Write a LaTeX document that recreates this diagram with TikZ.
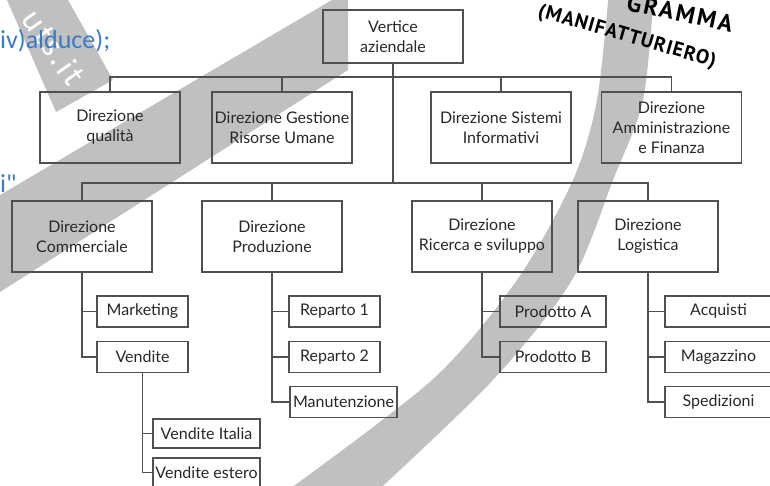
\documentclass[tikz,border=0pt]{standalone}
\usepackage{fontspec}
\setmainfont{Lato}
\newfontfamily\notefont{Carlito}
\newfontfamily\handfont{PT Sans}
\definecolor{linec}{RGB}{80,80,80}
\definecolor{txtc}{RGB}{40,40,40}
\definecolor{wmark}{RGB}{192,192,192}
\definecolor{noteblue}{RGB}{58,122,198}

\begin{document}
\begin{tikzpicture}[x=1pt,y=-1pt,box/.style={draw=linec, line width=1.1pt, text=txtc, align=center, inner sep=1pt, minimum width=140pt, minimum height=71pt, font=\fontsize{16}{20}\selectfont},topbox/.style={box, minimum height=53pt},sub/.style={box, minimum width=91pt, minimum height=31pt},wsub/.style={sub, minimum width=107pt},conn/.style={draw=linec, line width=1.1pt}]
  \useasboundingbox (0,0) rectangle (770,486);
  \fill[white] (0,0) rectangle (770,486);

  % watermark
  \begin{scope}
    \clip (0,0) rectangle (770,486);
    \fill[wmark] (7,0) -- (68,0) -- (113,80) -- (56,112) -- cycle;
    \fill[wmark] (332,0) -- (348,0) -- (348,70) -- (0,292) -- (0,195) -- cycle;
    \fill[wmark] plot[smooth] coordinates {(609,-10) (597,100) (573,180) (517,280) (432,380) (280,496)} -- plot[smooth] coordinates {(372,496) (493,380) (572,280) (613,180) (643,100) (654,-10)} -- cycle;
  \end{scope}
  \node[text=white, font=\notefont\fontsize{34}{34}\selectfont\addfontfeature{LetterSpace=8}, rotate=-55] (wmtxt) at (54,47) {uts.it};
  \node[anchor=base west, inner sep=0pt, text=noteblue, font=\notefont\fontsize{26}{26}\selectfont] (note1) at (0,49) {iv)alduce);};
  \node[anchor=base west, inner sep=0pt, text=noteblue, font=\notefont\fontsize{26}{26}\selectfont] (note2) at (0,193) {i"};
  \node[font=\handfont\bfseries\fontsize{24}{24}\selectfont\addfontfeature{LetterSpace=10}, rotate=-12] (hand1) at (680,13) {GRAMMA};
  \node[font=\handfont\bfseries\fontsize{20}{20}\selectfont\addfontfeature{LetterSpace=5}, rotate=-16] (hand2) at (627,37) {(MANIFATTURIERO)};

  \node[topbox] (vert) at (393,36.5) {Vertice\\aziendale};

  \node[box] (qual) at (110,127.5) {Direzione\\qualità};
  \node[box] (hr) at (282,127.5) {Direzione Gestione\\Risorse Umane};
  \node[box] (si) at (501,127.5) {Direzione Sistemi\\Informativi};
  \node[box] (amm) at (671.5,127.5) {Direzione\\Amministrazione\\e Finanza};

  \node[box] (comm) at (82,236.5) {Direzione\\Commerciale};
  \node[box] (prod) at (272,236.5) {Direzione\\Produzione};
  \node[box] (ric) at (482,236.5) {Direzione\\Ricerca e sviluppo};
  \node[box] (logi) at (648,236.5) {Direzione\\Logistica};

  \node[sub] (mkt) at (142.5,311.5) {Marketing};
  \node[sub] (vend) at (142.5,357) {Vendite};
  \node[wsub, minimum height=29pt] (vit) at (206.5,433.5) {Vendite Italia};
  \node[wsub, minimum height=29pt] (vest) at (206.5,472.5) {Vendite estero};

  \node[sub] (rep1) at (334.5,311.5) {Reparto 1};
  \node[sub] (rep2) at (334.5,357) {Reparto 2};
  \node[wsub] (man) at (343.5,402) {Manutenzione};

  \node[wsub, minimum width=106pt] (pa) at (553,311.5) {Prodotto A};
  \node[wsub, minimum width=106pt] (pb) at (553,357) {Prodotto B};

  \node[wsub] (acq) at (718.5,311.5) {Acquisti};
  \node[wsub] (mag) at (718.5,357) {Magazzino};
  \node[wsub] (sped) at (718.5,402) {Spedizioni};

  \coordinate (bus1) at (393,77);
  \coordinate (bus2) at (393,183);

  \draw[conn] (vert.south) -- (bus2);
  \draw[conn] (qual.north) |- (bus1) -| (amm.north);
  \draw[conn] (hr.north) -- (hr.north |- bus1);
  \draw[conn] (si.north) -- (si.north |- bus1);
  \draw[conn] (comm.north) |- (bus2) -| (logi.north);
  \draw[conn] (prod.north) -- (prod.north |- bus2);
  \draw[conn] (ric.north) -- (ric.north |- bus2);

  \draw[conn] (comm.south) |- (mkt.west);
  \draw[conn] (comm.south) |- (vend.west);
  \draw[conn] (vend.south) |- (vit.west);
  \draw[conn] (vend.south) |- (vest.west);
  \draw[conn] (prod.south) |- (rep1.west);
  \draw[conn] (prod.south) |- (rep2.west);
  \draw[conn] (prod.south) |- (man.west);
  \draw[conn] (ric.south) |- (pa.west);
  \draw[conn] (ric.south) |- (pb.west);
  \draw[conn] (logi.south) |- (acq.west);
  \draw[conn] (logi.south) |- (mag.west);
  \draw[conn] (logi.south) |- (sped.west);
\end{tikzpicture}
\end{document}
